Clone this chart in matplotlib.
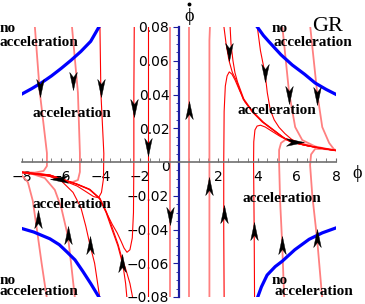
import matplotlib
matplotlib.use('Agg')
import matplotlib.pyplot as plt
from matplotlib.path import Path
from matplotlib.markers import MarkerStyle
from matplotlib.ticker import MultipleLocator

# "no acceleration" boundaries (phi, phidot)
blue_top_left = [(-8.1, 0.0397), (-7.5, 0.0435), (-7.0, 0.047), (-6.5, 0.051), (-6.0, 0.0555), (-5.5, 0.0603),
                 (-5.0, 0.0655), (-4.5, 0.0715), (-4.03, 0.081)]
blue_top_right = [(3.93, 0.081), (4.3, 0.075), (4.59, 0.0712), (5.2, 0.0635), (5.77, 0.0575), (6.4, 0.052),
                  (6.94, 0.0468), (7.5, 0.043), (8.06, 0.0397)]
blue_bottom_left = [(-8.1, -0.0391), (-7.4, -0.0415), (-6.58, -0.0455), (-6.1, -0.049), (-5.71, -0.0533),
                    (-5.3, -0.058), (-4.9, -0.0648), (-4.5, -0.072), (-4.03, -0.081)]
blue_bottom_right = [(3.98, -0.081), (4.2, -0.074), (4.49, -0.067), (4.9, -0.062), (5.26, -0.0588),
                     (5.9, -0.052), (6.63, -0.0458), (7.3, -0.042), (8.06, -0.0388)]

# thin red trajectories
red_paths = [
    [(2.28, 0.081), (2.4, 0.07), (2.55, 0.06), (2.72, 0.053), (2.91, 0.0486), (3.27, 0.0372), (3.72, 0.0298),
     (4.23, 0.0238), (4.9, 0.018), (5.26, 0.0148), (5.66, 0.0122), (6.12, 0.0108), (6.53, 0.0096),
     (6.94, 0.0088), (7.5, 0.0076), (8.1, 0.0066)],
    [(2.6, 0.081), (2.65, 0.07), (2.75, 0.06), (2.85, 0.053), (2.98, 0.0475), (3.3, 0.0374), (3.75, 0.03),
     (4.3, 0.0236), (4.95, 0.0179), (5.3, 0.0147), (5.7, 0.0121), (6.2, 0.0106), (6.6, 0.0095),
     (7.0, 0.0087), (7.6, 0.0075), (8.1, 0.0067)],
    [(2.3, -0.081), (2.28, -0.04), (2.28, 0.0), (2.3, 0.03), (2.36, 0.045), (2.45, 0.051), (2.56, 0.0534),
     (2.7, 0.052), (2.86, 0.0485), (3.1, 0.042), (3.35, 0.0358), (3.8, 0.0292), (4.3, 0.0234),
     (4.95, 0.0177), (5.5, 0.0131), (6.0, 0.011), (6.8, 0.009), (8.1, 0.0066)],
    [(3.85, -0.081), (3.83, -0.04), (3.8, 0.0), (3.81, 0.012), (3.87, 0.019), (3.98, 0.0213), (4.15, 0.0218),
     (4.4, 0.0207), (4.75, 0.0181), (5.15, 0.0152), (5.66, 0.0121), (6.3, 0.0102), (7.2, 0.0082), (8.1, 0.0066)],
    [(3.98, 0.081), (4.15, 0.066), (4.39, 0.052), (4.5, 0.041), (4.65, 0.031), (4.85, 0.025), (5.1, 0.0205),
     (5.4, 0.0168), (5.75, 0.0133), (6.12, 0.0112), (6.8, 0.0092), (8.1, 0.0067)],
    [(-1.58, 0.081), (-1.58, -0.081)],
    [(-2.28, 0.081), (-2.3, 0.04), (-2.3, 0.0), (-2.32, -0.03), (-2.38, -0.045), (-2.5, -0.052), (-2.65, -0.0535),
     (-2.8, -0.051), (-2.95, -0.047), (-3.15, -0.042), (-3.4, -0.037), (-3.7, -0.03), (-4.03, -0.022),
     (-4.54, -0.0165), (-5.2, -0.0133), (-5.97, -0.0103), (-6.58, -0.0079), (-8.1, -0.006)],
    [(-2.35, -0.081), (-2.5, -0.072), (-2.7, -0.064), (-2.91, -0.057), (-3.1, -0.049), (-3.37, -0.04),
     (-3.7, -0.0295), (-4.03, -0.0215), (-4.54, -0.0162), (-5.2, -0.013), (-5.97, -0.0101),
     (-6.58, -0.0077), (-8.1, -0.0059)],
    [(-2.65, -0.081), (-2.72, -0.072), (-2.82, -0.064), (-2.95, -0.057), (-3.12, -0.0495), (-3.4, -0.0405),
     (-3.72, -0.0298), (-4.06, -0.0213), (-4.6, -0.016), (-5.25, -0.0129), (-6.0, -0.01), (-6.6, -0.0076),
     (-8.1, -0.0058)],
    [(-4.03, 0.081), (-3.98, 0.041), (-3.83, 0.005), (-3.85, -0.01), (-3.95, -0.018), (-4.1, -0.0212),
     (-4.35, -0.0205), (-4.75, -0.0175), (-5.2, -0.0142), (-5.97, -0.0106), (-6.8, -0.0078), (-8.1, -0.0061)],
    [(-4.03, -0.081), (-4.3, -0.06), (-4.54, -0.049), (-4.75, -0.038), (-5.0, -0.027), (-5.4, -0.018),
     (-5.97, -0.0115), (-6.58, -0.0085), (-8.1, -0.0062)],
]

# thicker pale red trajectories
salmon_paths = [
    [(0.51, -0.081), (0.51, 0.081)],
    [(1.55, -0.081), (1.55, 0.072), (1.58, 0.081)],
    [(-0.48, -0.081), (-0.48, 0.081)],
    [(5.26, 0.081), (5.61, 0.041), (5.92, 0.0207), (6.28, 0.013), (6.94, 0.0092), (7.5, 0.0078), (8.1, 0.0068)],
    [(6.68, 0.081), (7.04, 0.041), (7.3, 0.0207), (7.65, 0.0113), (7.9, 0.0075), (8.1, 0.0067)],
    [(5.36, -0.081), (5.26, -0.049), (5.15, -0.0225), (5.1, 0.0), (5.1, 0.0071), (5.2, 0.0113), (5.46, 0.0135),
     (5.77, 0.0128), (6.3, 0.0108), (7.0, 0.0088), (8.1, 0.0067)],
    [(7.3, -0.081), (7.04, -0.046), (6.79, -0.0196), (6.68, -0.0018), (6.73, 0.0045), (6.94, 0.0078),
     (7.45, 0.0076), (8.1, 0.0067)],
    [(-5.46, 0.081), (-5.15, 0.041), (-5.05, 0.0053), (-5.05, -0.0059), (-5.15, -0.0107), (-5.5, -0.0122),
     (-5.97, -0.0104), (-6.58, -0.008), (-8.1, -0.006)],
    [(-7.35, 0.081), (-7.09, 0.041), (-6.73, 0.0053), (-6.73, -0.0024), (-6.9, -0.0053), (-7.35, -0.0063),
     (-8.1, -0.006)],
    [(-5.3, -0.081), (-5.5, -0.06), (-5.66, -0.044), (-6.0, -0.027), (-6.33, -0.0165), (-6.84, -0.0095),
     (-7.5, -0.007), (-8.1, -0.0062)],
    [(-6.73, -0.081), (-7.0, -0.06), (-7.24, -0.04), (-7.45, -0.023), (-7.7, -0.012), (-8.1, -0.0067)],
]

# arrowheads along the trajectories
arrow_phi = [-7.09, -5.41, -4.0, -2.3, -1.58, -0.48, 2.55, 4.39, 5.58, 7.04,
             0.51, 1.55, 2.28, 3.84, 5.26, 7.04, -2.91, -4.54, -5.66, -7.2,
             5.9, -6.1]
arrow_phidot = [0.044, 0.048, 0.044, 0.032, 0.009, -0.032, 0.065, 0.053, 0.04, 0.039,
                0.031, -0.014, -0.031, -0.041, -0.049, -0.045, -0.060, -0.049, -0.043, -0.034,
                0.0118, -0.0103]
arrow_dir = ['d', 'd', 'd', 'd', 'd', 'd', 'd', 'd', 'd', 'd',
             'u', 'u', 'u', 'u', 'u', 'u', 'u', 'u', 'u', 'u',
             'r', 'l']

x_ticks = [-8, -6, -4, -2, 2, 4, 6, 8]
x_tick_labels = ['\u22128', '\u22126', '\u22124', '\u22122', '2', '4', '6', '8']
y_ticks = [-0.08, -0.06, -0.04, -0.02, 0.02, 0.04, 0.06, 0.08]
y_tick_labels = ['\u22120.08', '\u22120.06', '\u22120.04', '\u22120.02', '0.02', '0.04', '0.06', '0.08']

RED = '#ff0000'
SALMON = '#ff8080'
BLUE = '#0000ff'

fig = plt.figure(figsize=(3.65, 3.04), dpi=100)
ax = fig.add_axes([22 / 365, 7 / 304, 314 / 365, 270 / 304])
ax.set_xlim(-8, 8)
ax.set_ylim(-0.08, 0.08)

for path in salmon_paths:
    ax.plot([p[0] for p in path], [p[1] for p in path], color=SALMON, lw=1.3, zorder=2)
for path in red_paths:
    ax.plot([p[0] for p in path], [p[1] for p in path], color=RED, lw=0.8, zorder=2.5)
for curve in (blue_top_left, blue_top_right, blue_bottom_left, blue_bottom_right):
    ax.plot([p[0] for p in curve], [p[1] for p in curve], color=BLUE, lw=2.3, zorder=3,
            solid_capstyle='butt', solid_joinstyle='round')

# dart shaped arrowhead, pointing up before rotation
dart = Path([(0, 1), (0.42, -1), (0, -0.45), (-0.42, -1), (0, 1)],
            [Path.MOVETO, Path.LINETO, Path.LINETO, Path.LINETO, Path.CLOSEPOLY])
angles = {'u': 0, 'd': 180, 'l': 90, 'r': -90}
for x, y, d in zip(arrow_phi, arrow_phidot, arrow_dir):
    ax.plot(x, y, ls='none', marker=MarkerStyle(dart).rotated(deg=angles[d]), ms=13,
            color='k', mec='k', mew=0.3, zorder=5, clip_on=False)

# axes through the origin
ax.spines['left'].set_position(('data', 0))
ax.spines['bottom'].set_position(('data', 0))
ax.spines['top'].set_visible(False)
ax.spines['right'].set_visible(False)
ax.spines['left'].set_color('#1c1ca0')
ax.spines['left'].set_linewidth(1.6)
ax.spines['bottom'].set_color('#707070')
ax.spines['bottom'].set_linewidth(1.2)
ax.spines['left'].set_zorder(4)
ax.spines['bottom'].set_zorder(4)

ax.set_xticks(x_ticks)
ax.set_xticklabels(x_tick_labels)
ax.set_yticks(y_ticks)
ax.set_yticklabels(y_tick_labels)
ax.xaxis.set_minor_locator(MultipleLocator(0.5))
ax.yaxis.set_minor_locator(MultipleLocator(0.005))
ax.tick_params(axis='x', which='both', direction='in', length=3, color='#707070', pad=6, labelsize=10)
ax.tick_params(axis='y', which='major', direction='out', length=4, color='#1c1ca0', pad=3, labelsize=10)
ax.tick_params(axis='y', which='minor', direction='out', length=2.5, color='#1c1ca0')

serif = ['Liberation Serif', 'DejaVu Serif']
ax.text(-0.71, -0.003, '0', fontsize=10, ha='center', va='center')
ax.text(9.08, -0.0071, '\u03d5', family=serif, fontsize=13, ha='center', va='center', clip_on=False)
# phi-dot label at the top of the vertical axis, the dot drawn as a small mark
ax.text(0.51, 0.0865, '\u03d5', family=serif, fontsize=13, ha='center', va='center', clip_on=False)
ax.plot(0.51, 0.0937, ls='none', marker='o', ms=1.8, color='k', clip_on=False)

txt = dict(family=serif, fontsize=11, fontweight='bold', clip_on=False)
ax.text(-9.13, 0.0794, 'no', ha='left', va='center', **txt)
ax.text(-9.13, 0.0711, 'acceleration', ha='left', va='center', **txt)
ax.text(4.74, 0.0794, 'no', ha='left', va='center', **txt)
ax.text(4.8, 0.0711, 'acceleration', ha='left', va='center', **txt)
ax.text(6.79, 0.0805, 'GR', family=serif, fontsize=16, ha='left', va='center', clip_on=False)
ax.text(-5.46, 0.029, 'acceleration', ha='center', va='center', **txt)
ax.text(5.0, 0.0308, 'acceleration', ha='center', va='center', **txt)
ax.text(-5.46, -0.0249, 'acceleration', ha='center', va='center', **txt)
ax.text(5.26, -0.0219, 'acceleration', ha='center', va='center', **txt)
ax.text(-9.13, -0.070, 'no', ha='left', va='center', **txt)
ax.text(-9.13, -0.077, 'acceleration', ha='left', va='center', **txt)
ax.text(4.74, -0.070, 'no', ha='left', va='center', **txt)
ax.text(4.85, -0.077, 'acceleration', ha='left', va='center', **txt)

fig.savefig('out.png', dpi=100)
